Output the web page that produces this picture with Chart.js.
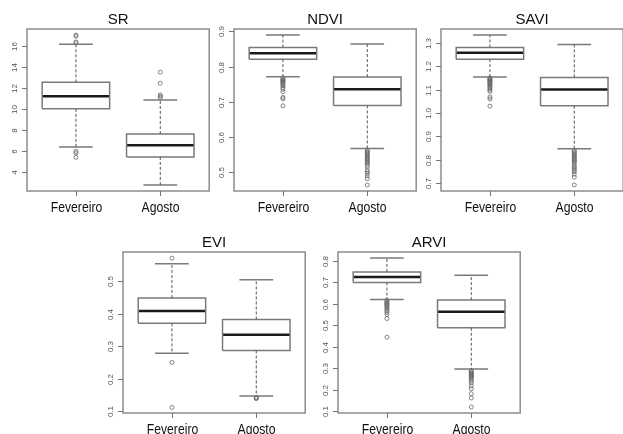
<!DOCTYPE html>
<html>
<head>
<meta charset="utf-8">
<script src="https://cdn.jsdelivr.net/npm/chart.js@4/dist/chart.umd.min.js"></script>
<style>
  html, body { margin: 0; padding: 0; background: #fff; }
  #wrap { position: relative; width: 623px; height: 434px; overflow: hidden; background: #fff; }
  canvas { position: absolute; }
</style>
</head>
<body>
<div id="wrap">
  <canvas id="cSR" width="214" height="217" style="left:0px;top:0px"></canvas>
  <canvas id="cNDVI" width="214" height="217" style="left:207px;top:0px"></canvas>
  <canvas id="cSAVI" width="214" height="217" style="left:414px;top:0px"></canvas>
  <canvas id="cEVI" width="214" height="214" style="left:96px;top:220px"></canvas>
  <canvas id="cARVI" width="214" height="214" style="left:311px;top:220px"></canvas>
</div>
<script>
// ---------- DATA ----------
const categories = ['Fevereiro', 'Agosto'];
const panelTitles = ['SR', 'NDVI', 'SAVI', 'EVI', 'ARVI'];

// SR
const srQ1 = [10.0, 5.41];
const srMedian = [11.2, 6.52];
const srQ3 = [12.53, 7.6];
const srWhiskerLow = [6.37, 2.73];
const srWhiskerHigh = [16.16, 10.85];
const srOutFev = [17.05, 16.93, 16.38, 16.29, 5.94, 5.79, 5.37];
const srOutAgo = [13.5, 12.44, 11.33, 11.2, 11.08];
const srTicks = [4, 6, 8, 10, 12, 14, 16];
const srRange = [2.16, 17.62];

// NDVI
const ndviQ1 = [0.821, 0.689];
const ndviMedian = [0.838, 0.735];
const ndviQ3 = [0.854, 0.770];
const ndviWhiskerLow = [0.771, 0.566];
const ndviWhiskerHigh = [0.890, 0.864];
const ndviOutFev = [0.768, 0.765, 0.762, 0.760, 0.757, 0.755, 0.752, 0.748, 0.745, 0.740, 0.735, 0.728, 0.712, 0.708, 0.688];
const ndviOutAgo = [0.562, 0.558, 0.555, 0.551, 0.548, 0.545, 0.541, 0.538, 0.535, 0.531, 0.528, 0.525, 0.520, 0.515, 0.505, 0.500, 0.495, 0.488, 0.480, 0.462];
const ndviTicks = [0.5, 0.6, 0.7, 0.8, 0.9];
const ndviRange = [0.445, 0.907];

// SAVI
const saviQ1 = [1.230, 1.031];
const saviMedian = [1.257, 1.100];
const saviQ3 = [1.280, 1.152];
const saviWhiskerLow = [1.154, 0.847];
const saviWhiskerHigh = [1.333, 1.293];
const saviOutFev = [1.150, 1.147, 1.143, 1.140, 1.137, 1.133, 1.130, 1.125, 1.120, 1.115, 1.110, 1.105, 1.098, 1.092, 1.068, 1.060, 1.029];
const saviOutAgo = [0.840, 0.835, 0.830, 0.825, 0.820, 0.815, 0.810, 0.805, 0.800, 0.795, 0.790, 0.785, 0.775, 0.768, 0.762, 0.755, 0.748, 0.738, 0.725, 0.692];
const saviTicks = [0.7, 0.8, 0.9, 1.0, 1.1, 1.2, 1.3];
const saviRange = [0.666, 1.359];

// EVI
const eviQ1 = [0.370, 0.287];
const eviMedian = [0.408, 0.335];
const eviQ3 = [0.448, 0.382];
const eviWhiskerLow = [0.278, 0.147];
const eviWhiskerHigh = [0.553, 0.504];
const eviOutFev = [0.570, 0.250, 0.112];
const eviOutAgo = [0.143, 0.141, 0.139];
const eviTicks = [0.1, 0.2, 0.3, 0.4, 0.5];
const eviRange = [0.095, 0.589];

// ARVI
const arviQ1 = [0.700, 0.489];
const arviMedian = [0.726, 0.564];
const arviQ3 = [0.749, 0.618];
const arviWhiskerLow = [0.621, 0.297];
const arviWhiskerHigh = [0.814, 0.734];
const arviOutFev = [0.618, 0.612, 0.608, 0.603, 0.598, 0.593, 0.588, 0.582, 0.575, 0.568, 0.560, 0.550, 0.532, 0.445];
const arviOutAgo = [0.290, 0.285, 0.280, 0.276, 0.272, 0.268, 0.264, 0.260, 0.255, 0.248, 0.240, 0.232, 0.218, 0.205, 0.182, 0.162, 0.120];
const arviTicks = [0.1, 0.2, 0.3, 0.4, 0.5, 0.6, 0.7, 0.8];
const arviRange = [0.092, 0.842];

// ---------- STYLE / LAYOUT ----------
const FONT = '"Liberation Sans", Arial, sans-serif';
const GREY = '#7a7a7a';
const BOX_HALF = 0.4;
const CAP_HALF = 0.2;

const panelDefs = [
  { id: 'cSR', title: panelTitles[0], q1: srQ1, med: srMedian, q3: srQ3, lo: srWhiskerLow, hi: srWhiskerHigh, out: [srOutFev, srOutAgo], ticks: srTicks, range: srRange, dec: 0, pad: { left: 27, right: 2, top: 29, bottom: 26 } },
  { id: 'cNDVI', title: panelTitles[1], q1: ndviQ1, med: ndviMedian, q3: ndviQ3, lo: ndviWhiskerLow, hi: ndviWhiskerHigh, out: [ndviOutFev, ndviOutAgo], ticks: ndviTicks, range: ndviRange, dec: 1, pad: { left: 27, right: 2, top: 29, bottom: 26 } },
  { id: 'cSAVI', title: panelTitles[2], q1: saviQ1, med: saviMedian, q3: saviQ3, lo: saviWhiskerLow, hi: saviWhiskerHigh, out: [saviOutFev, saviOutAgo], ticks: saviTicks, range: saviRange, dec: 1, pad: { left: 27, right: 2, top: 29, bottom: 26 } },
  { id: 'cEVI', title: panelTitles[3], q1: eviQ1, med: eviMedian, q3: eviQ3, lo: eviWhiskerLow, hi: eviWhiskerHigh, out: [eviOutFev, eviOutAgo], ticks: eviTicks, range: eviRange, dec: 1, pad: { left: 27, right: 3, top: 32, bottom: 21 } },
  { id: 'cARVI', title: panelTitles[4], q1: arviQ1, med: arviMedian, q3: arviQ3, lo: arviWhiskerLow, hi: arviWhiskerHigh, out: [arviOutFev, arviOutAgo], ticks: arviTicks, range: arviRange, dec: 1, pad: { left: 27, right: 3, top: 32, bottom: 21 } }
];

function gap(x) { return { x: x, y: null }; }

function buildDatasets(p) {
  const boxes = [], medians = [], whiskers = [], caps = [], outliers = [];
  categories.forEach((c, i) => {
    const cx = i + 1;
    boxes.push({ x: cx - BOX_HALF, y: p.q1[i] }, { x: cx + BOX_HALF, y: p.q1[i] },
               { x: cx + BOX_HALF, y: p.q3[i] }, { x: cx - BOX_HALF, y: p.q3[i] },
               { x: cx - BOX_HALF, y: p.q1[i] }, gap(cx));
    medians.push({ x: cx - BOX_HALF, y: p.med[i] }, { x: cx + BOX_HALF, y: p.med[i] }, gap(cx));
    whiskers.push({ x: cx, y: p.q3[i] }, { x: cx, y: p.hi[i] }, gap(cx),
                  { x: cx, y: p.q1[i] }, { x: cx, y: p.lo[i] }, gap(cx));
    caps.push({ x: cx - CAP_HALF, y: p.hi[i] }, { x: cx + CAP_HALF, y: p.hi[i] }, gap(cx),
              { x: cx - CAP_HALF, y: p.lo[i] }, { x: cx + CAP_HALF, y: p.lo[i] }, gap(cx));
    p.out[i].forEach(v => outliers.push({ x: cx, y: v }));
  });
  const lineBase = { showLine: true, pointRadius: 0, pointHoverRadius: 0, spanGaps: false, fill: false, tension: 0 };
  return [
    Object.assign({ label: 'whiskers', data: whiskers, borderColor: '#555', borderWidth: 1, borderDash: [3, 2], borderCapStyle: 'butt' }, lineBase),
    Object.assign({ label: 'caps', data: caps, borderColor: GREY, borderWidth: 1.5, borderCapStyle: 'butt' }, lineBase),
    Object.assign({ label: 'boxes', data: boxes, borderColor: GREY, borderWidth: 1.5, borderJoinStyle: 'miter' }, lineBase),
    Object.assign({ label: 'medians', data: medians, borderColor: '#1a1a1a', borderWidth: 2.5, borderCapStyle: 'butt' }, lineBase),
    { label: 'outliers', data: outliers, showLine: false, pointStyle: 'circle', pointRadius: 2, pointBorderWidth: 0.8,
      pointBorderColor: '#666', pointBackgroundColor: 'rgba(255,255,255,0)', borderColor: '#666', backgroundColor: 'rgba(255,255,255,0)' }
  ];
}

const decorPlugin = {
  id: 'rdecor',
  afterDraw(chart) {
    const p = chart.options.plugins.rdecor;
    const { ctx, chartArea: a, scales: { x, y } } = chart;
    ctx.save();
    // frame
    ctx.strokeStyle = '#8c8c8c';
    ctx.lineWidth = 1.5;
    ctx.strokeRect(a.left, a.top, a.right - a.left, a.bottom - a.top);
    // y ticks and labels
    ctx.strokeStyle = '#777';
    ctx.lineWidth = 1;
    ctx.fillStyle = '#555';
    ctx.font = '8px ' + FONT;
    ctx.textAlign = 'center';
    ctx.textBaseline = 'middle';
    p.ticks.forEach(t => {
      const py = Math.round(y.getPixelForValue(t)) + 0.5;
      ctx.beginPath();
      ctx.moveTo(a.left - 5, py);
      ctx.lineTo(a.left, py);
      ctx.stroke();
      ctx.save();
      ctx.translate(a.left - 12, py);
      ctx.rotate(-Math.PI / 2);
      ctx.fillText(t.toFixed(p.dec), 0, 0);
      ctx.restore();
    });
    // x ticks and labels (slightly condensed, like the reference)
    ctx.fillStyle = '#111';
    ctx.font = '14px ' + FONT;
    ctx.textBaseline = 'middle';
    categories.forEach((c, i) => {
      const px = Math.round(x.getPixelForValue(i + 1)) + 0.5;
      ctx.beginPath();
      ctx.moveTo(px, a.bottom);
      ctx.lineTo(px, a.bottom + 5);
      ctx.stroke();
      ctx.save();
      ctx.translate(px, a.bottom + 17);
      ctx.scale(0.87, 1);
      ctx.fillText(c, 0, 0);
      ctx.restore();
    });
    // title
    ctx.font = '15px ' + FONT;
    ctx.fillStyle = '#111';
    ctx.fillText(p.title, (a.left + a.right) / 2, a.top - 9);
    ctx.restore();
  }
};

panelDefs.forEach(p => {
  new Chart(document.getElementById(p.id), {
    type: 'scatter',
    data: { datasets: buildDatasets(p) },
    plugins: [decorPlugin],
    options: {
      responsive: false,
      animation: false,
      devicePixelRatio: 1,
      layout: { padding: p.pad },
      plugins: {
        legend: { display: false },
        tooltip: { enabled: false },
        rdecor: { ticks: p.ticks, dec: p.dec, title: p.title }
      },
      scales: {
        x: { type: 'linear', min: 0.42, max: 2.58, display: false },
        y: { type: 'linear', min: p.range[0], max: p.range[1], display: false }
      }
    }
  });
});
</script>
</body>
</html>
